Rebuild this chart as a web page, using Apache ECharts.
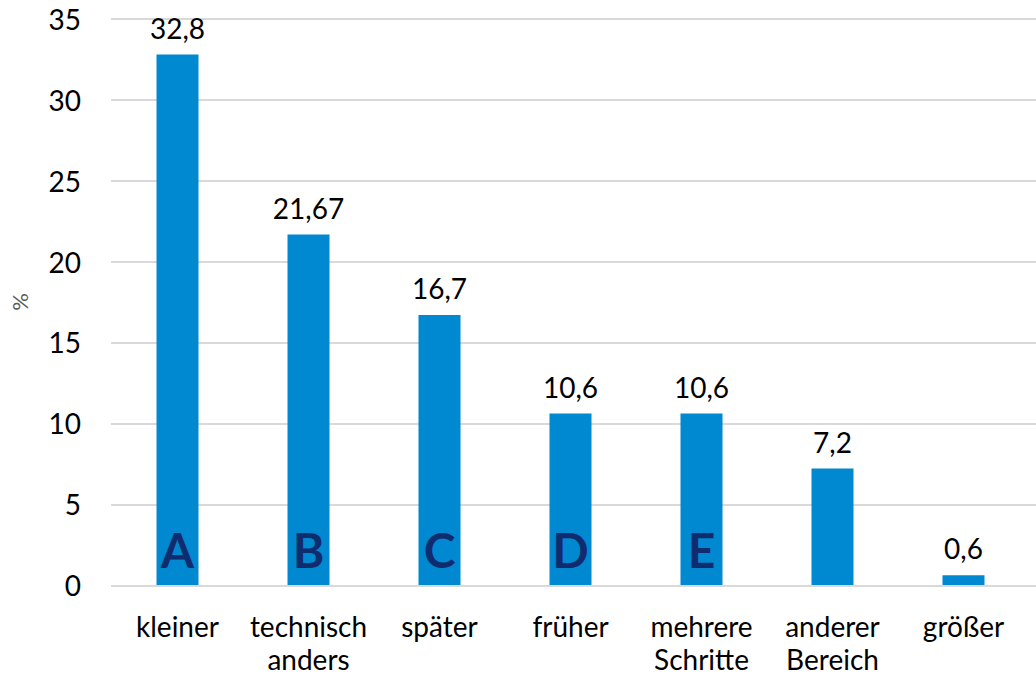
<!DOCTYPE html>
<html>
<head>
<meta charset="utf-8">
<style>
  html, body { margin: 0; padding: 0; background: #fff; }
  #chart { width: 1036px; height: 675px; }
</style>
<script src="https://cdn.jsdelivr.net/npm/echarts@6/dist/echarts.min.js"></script>
</head>
<body>
<div id="chart"></div>
<script>
var categories = ['kleiner', 'technisch\nanders', 'später', 'früher', 'mehrere\nSchritte', 'anderer\nBereich', 'größer'];
var values = [32.8, 21.67, 16.7, 10.6, 10.6, 7.2, 0.6];
var letters = ['A', 'B', 'C', 'D', 'E', '', ''];
var yTicks = { min: 0, max: 35, interval: 5 };

(function() {
  var font = 'Lato, "Noto Sans", sans-serif';
  var barColor = '#0088d1';
  var chart = echarts.init(document.getElementById('chart'), null, { renderer: 'svg' });
  chart.setOption({
    animation: false,
    grid: [
      { left: 111, width: 918, top: 19, bottom: 89 },
      // gridlines run on to the right edge of the picture
      { left: 111, right: 0, top: 19, bottom: 89 }
    ],
    xAxis: [
      {
        type: 'category',
        gridIndex: 0,
        data: categories,
        axisLine: { show: false },
        axisTick: { show: false },
        axisLabel: {
          color: '#000',
          fontFamily: font,
          fontSize: 28,
          lineHeight: 33,
          margin: 24,
          interval: 0
        }
      },
      { type: 'value', gridIndex: 1, min: 0, max: 1, show: false }
    ],
    yAxis: [
      {
        type: 'value',
        gridIndex: 0,
        min: yTicks.min,
        max: yTicks.max,
        interval: yTicks.interval,
        name: '%',
        nameLocation: 'middle',
        nameGap: 82,
        nameRotate: 90,
        nameTextStyle: { color: '#595959', fontFamily: font, fontSize: 22 },
        axisLine: { show: false },
        axisTick: { show: false },
        axisLabel: { color: '#000', fontFamily: font, fontSize: 28, margin: 31 },
        splitLine: { show: false }
      },
      {
        type: 'value',
        gridIndex: 1,
        min: yTicks.min,
        max: yTicks.max,
        interval: yTicks.interval,
        axisLine: { show: false },
        axisTick: { show: false },
        axisLabel: { show: false },
        splitLine: { lineStyle: { color: '#d9d9d9', width: 2 } }
      }
    ],
    series: [
      {
        type: 'bar',
        xAxisIndex: 0,
        yAxisIndex: 0,
        barWidth: 42,
        data: values,
        itemStyle: { color: barColor },
        z: 3,
        label: {
          show: true,
          position: 'top',
          distance: 13,
          color: '#000',
          fontFamily: font,
          fontSize: 28,
          formatter: function(p) { return String(p.value).replace('.', ','); }
        }
      },
      {
        type: 'bar',
        xAxisIndex: 0,
        yAxisIndex: 0,
        barWidth: 42,
        barGap: '-100%',
        silent: true,
        data: values,
        itemStyle: { color: 'rgba(0,0,0,0)' },
        z: 4,
        label: {
          show: true,
          position: 'insideBottom',
          distance: 12,
          color: '#0f2d6e',
          fontFamily: font,
          fontWeight: 'bold',
          fontSize: 48,
          formatter: function(p) { return letters[p.dataIndex]; }
        }
      }
    ]
  });
  window.addEventListener('resize', function() { chart.resize(); });
})();
</script>
</body>
</html>
